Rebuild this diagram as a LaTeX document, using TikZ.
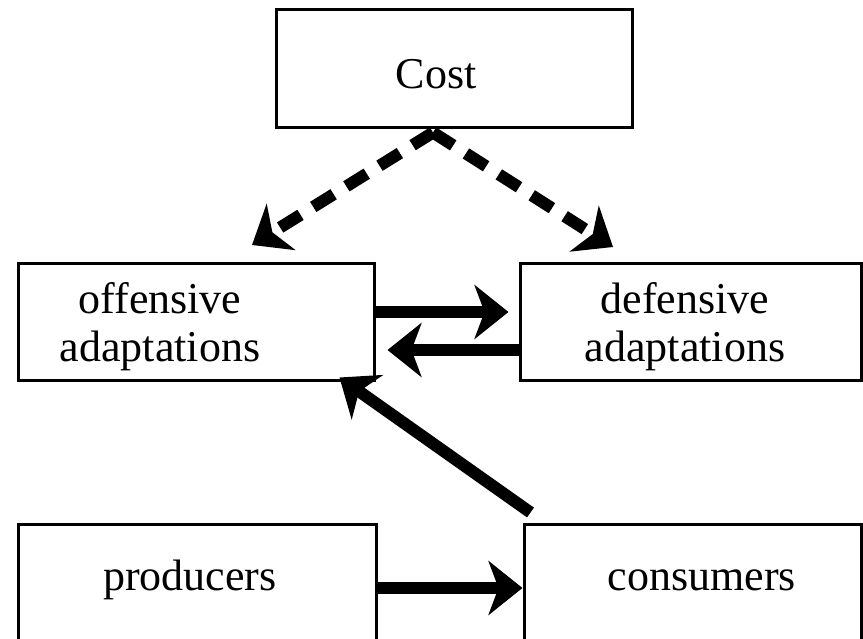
\documentclass[tikz,border=0pt]{standalone}
\usepackage{fontspec}
\setmainfont{Liberation Serif}
\usetikzlibrary{arrows.meta,calc}
\begin{document}
\begin{tikzpicture}[x=1pt,y=-1pt,
  boxstyle/.style={draw=black,line width=3pt,inner sep=0pt},
  lbl/.style={font=\fontsize{44}{50}\selectfont,align=center,inner sep=0pt},
  bigarrow/.style={line width=12pt,-{Stealth[length=34pt,width=54pt,inset=10pt]}},
  dasharrow/.style={bigarrow,dash pattern=on 24pt off 15pt}]
\useasboundingbox (0,0) rectangle (863,639);
\clip (0,0) rectangle (863,639);
\fill[white] (0,0) rectangle (863,639);
% boxes
\node[boxstyle,minimum width=356pt,minimum height=118pt] (cost) at (454,69) {};
\node[boxstyle,minimum width=356pt,minimum height=116pt] (off) at (196,322) {};
\node[boxstyle,minimum width=341pt,minimum height=116pt] (def) at (690.5,322) {};
\node[boxstyle,minimum width=358pt,minimum height=126pt] (prod) at (197,587) {};
\node[boxstyle,minimum width=337pt,minimum height=126pt] (cons) at (692.5,587) {};
% labels
\node[lbl] (costt) at (436,74) {Cost};
\node[lbl] (offt) at (160,327) {offensive\\[-2pt]adaptations};
\node[lbl] (deft) at (685,327) {defensive\\[-2pt]adaptations};
\node[lbl] (prodt) at (190,580) {producers};
\node[lbl] (const) at (702,580) {consumers};
% connector ends
\coordinate (cs) at ($(cost.south)+(-21,3)$);
\coordinate (lt) at (252,245);
\coordinate (rt) at (613,247);
% dashed arrows
\draw[dasharrow] (cs) -- (lt);
\draw[dasharrow] (cs) -- (rt);
% solid arrows
\draw[bigarrow] (off.east |- 0,312) -- ([xshift=-10pt]def.west |- 0,312);
\draw[bigarrow] (def.west |- 0,350) -- ([xshift=12pt]off.east |- 0,350);
\draw[bigarrow] ($(cons.north west)+(8,-10)$) -- ($(off.south east)+(-36,-4)$);
\draw[bigarrow] (prod.east |- 0,588) -- (cons.west |- 0,588);
\end{tikzpicture}
\end{document}
